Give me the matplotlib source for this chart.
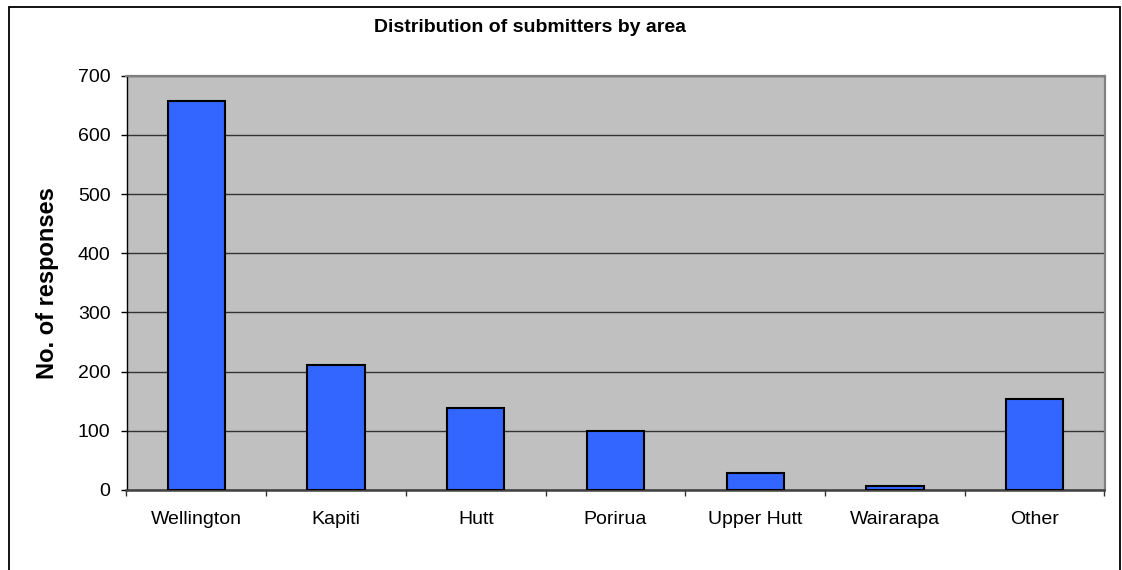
import matplotlib
matplotlib.use("Agg")
import matplotlib.pyplot as plt
from matplotlib.patches import Rectangle
import numpy as np

areas = ["Wellington", "Kapiti", "Hutt", "Porirua", "Upper Hutt", "Wairarapa", "Other"]
responses = [657, 212, 138, 100, 29, 7, 154]
y_ticks = [0, 100, 200, 300, 400, 500, 600, 700]

plt.rcParams["font.family"] = ["Liberation Sans", "DejaVu Sans"]

W, H = 1122, 570
fig = plt.figure(figsize=(W / 100, H / 100), dpi=100)
fig.patch.set_facecolor("white")

# axes box in pixel coords of the reference
left, right, top, bottom = 126.5, 1104.5, 75.7, 490.0
ax = fig.add_axes([left / W, 1 - bottom / H, (right - left) / W, (bottom - top) / H])
ax.set_facecolor("#C0C0C0")

x = np.arange(len(areas))
ax.bar(x, responses, width=0.41, color="#3366FF", edgecolor="black", linewidth=1.5, zorder=3)

ax.set_xlim(-0.5, len(areas) - 0.5)
ax.set_ylim(0, 700)
ax.set_yticks(y_ticks)
ax.yaxis.grid(True, color="#333333", linewidth=1.0, zorder=1)
ax.set_axisbelow(True)

ax.set_xticks(x)
ax.set_xticklabels(areas)
ax.set_xticks(np.arange(-0.5, len(areas)), minor=True)
ax.tick_params(axis="x", which="major", length=0, pad=15, labelsize=14)
ax.tick_params(axis="x", which="minor", length=4, width=1, color="#333333", direction="out")
ax.tick_params(axis="y", length=4.5, width=1, pad=7, labelsize=14, color="black")

ax.spines["left"].set_color("black")
ax.spines["left"].set_linewidth(1.0)
ax.spines["bottom"].set_color("#404040")
ax.spines["bottom"].set_linewidth(1.8)
for s in ("top", "right"):
    ax.spines[s].set_color("#808080")
    ax.spines[s].set_linewidth(1.6)

fig.text(48 / W, 1 - 283 / H, "No. of responses", rotation=90, ha="center", va="center",
         fontsize=17, fontweight="bold")
fig.text(530 / W, 1 - 28 / H, "Distribution of submitters by area", ha="center", va="center",
         fontsize=14, fontweight="bold")

# chart area border
fig.patches.append(Rectangle((8.5 / W, -0.02), (1120 - 8.5) / W, 1.02 - 7.5 / H,
                             transform=fig.transFigure, fill=False, edgecolor="black",
                             linewidth=1.3, clip_on=False))

fig.savefig("out.png", dpi=100)
